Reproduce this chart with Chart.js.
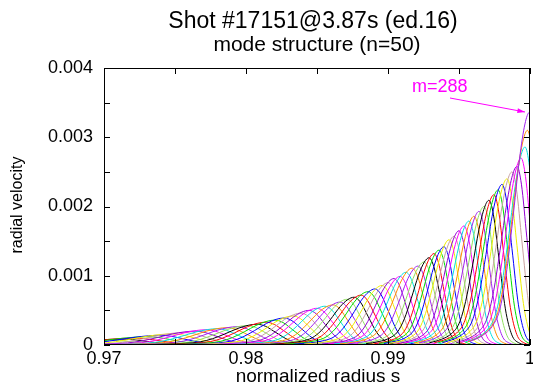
<!DOCTYPE html>
<html>
<head>
<meta charset="utf-8">
<script src="https://cdn.jsdelivr.net/npm/chart.js@4.4.1/dist/chart.umd.min.js"></script>
<style>
  html, body { margin: 0; padding: 0; background: #fff; }
  #wrap { width: 533px; height: 385px; }
</style>
</head>
<body>
<div id="wrap"><canvas id="modes" width="533" height="385"></canvas></div>
<script>
// Peak radius of every mode curve, left to right (last one is m=288)
const peakS = [
  0.97028, 0.97120, 0.97211, 0.97303, 0.97394, 0.97479, 0.97563, 0.97641, 0.97718, 0.97796,
  0.97866, 0.97937, 0.98007, 0.98077, 0.98141, 0.98204, 0.98268, 0.98331, 0.98387, 0.98444,
  0.98500, 0.98556, 0.98613, 0.98662, 0.98711, 0.98761, 0.98810, 0.98859, 0.98908, 0.98958,
  0.99000, 0.99042, 0.99085, 0.99127, 0.99169, 0.99211, 0.99254, 0.99289, 0.99324, 0.99359,
  0.99394, 0.99430, 0.99465, 0.99500, 0.99535, 0.99570, 0.99606, 0.99641, 0.99676, 0.99711,
  0.99746, 0.99775, 0.99803, 0.99838, 0.99873, 0.99908, 0.99937, 0.99965, 0.99982, 0.99996
];
// Peak radial velocity of every curve
const peakV = [
  0.000070, 0.000085, 0.000100, 0.000120, 0.000140, 0.000160, 0.000180, 0.000200, 0.000220, 0.000235,
  0.000250, 0.000265, 0.000280, 0.000300, 0.000330, 0.000360, 0.000390, 0.000420, 0.000460, 0.000500,
  0.000530, 0.000560, 0.000580, 0.000620, 0.000660, 0.000690, 0.000720, 0.000770, 0.000810, 0.000860,
  0.000900, 0.000960, 0.000990, 0.001050, 0.001110, 0.001140, 0.001200, 0.001260, 0.001320, 0.001370,
  0.001420, 0.001520, 0.001570, 0.001650, 0.001720, 0.001790, 0.001860, 0.001930, 0.002000, 0.002090,
  0.002170, 0.002240, 0.002320, 0.002400, 0.002500, 0.002580, 0.002700, 0.002860, 0.003100, 0.003360
];
const lastMode = 288;

// Shape of one curve: offset in peak spacings, level relative to peak
const profileOffset = [-12, -9.5, -7.5, -6, -4.7, -3.4, -2, -0.9, 0, 0.9, 2, 3.3, 4.6, 6, 8];
const profileLevel  = [0.015, 0.04, 0.08, 0.15, 0.30, 0.53, 0.80, 0.95, 1, 0.90, 0.60, 0.25, 0.07, 0.015, 0];

const xTicks = [0.97, 0.98, 0.99, 1];
const yTicks = [0, 0.001, 0.002, 0.003, 0.004];

const palette = ['#90e060', '#000000', '#ff0000', '#00dd00', '#0000ff', '#eeee00',
                 '#c8a0a0', '#9400d3', '#ff00ff', '#00e0e0', '#ff8c00', '#a020f0'];

const FONT = "'Liberation Sans', Arial, sans-serif";

function spacingAt(i) {
  const a = Math.max(i - 2, 0), b = Math.min(i + 2, peakS.length - 1);
  return Math.max((peakS[b] - peakS[a]) / (b - a), 0.00035);
}

const datasets = peakS.map((s0, i) => {
  const d = spacingAt(i);
  return {
    label: 'm=' + (lastMode - (peakS.length - 1 - i)),
    data: profileOffset.map((o, k) => ({ x: s0 + o * d, y: peakV[i] * profileLevel[k] })),
    showLine: true,
    borderColor: palette[i % palette.length],
    borderWidth: 1,
    pointRadius: 0,
    cubicInterpolationMode: 'monotone',
    fill: false,
    order: peakS.length - i
  };
});

// box, inward ticks on all sides, titles and the m=288 arrow
const framePlugin = {
  id: 'frame',
  afterDraw(chart) {
    const { ctx, chartArea: a, scales } = chart;
    const tl = 6;
    ctx.save();
    ctx.strokeStyle = '#000';
    ctx.lineWidth = 1;
    ctx.strokeRect(a.left + 0.5, a.top + 0.5, a.right - a.left - 1, a.bottom - a.top - 1);
    ctx.beginPath();
    scales.x.ticks.forEach(t => {
      const px = Math.round(scales.x.getPixelForValue(t.value)) + 0.5;
      ctx.moveTo(px, a.bottom); ctx.lineTo(px, a.bottom - tl);
      ctx.moveTo(px, a.top); ctx.lineTo(px, a.top + tl);
    });
    scales.y.ticks.forEach(t => {
      const py = Math.round(scales.y.getPixelForValue(t.value)) + 0.5;
      ctx.moveTo(a.left, py); ctx.lineTo(a.left + tl, py);
      ctx.moveTo(a.right, py); ctx.lineTo(a.right - tl, py);
    });
    ctx.stroke();

    ctx.fillStyle = '#000';
    ctx.textAlign = 'center';
    ctx.textBaseline = 'middle';
    ctx.font = '23px ' + FONT;
    ctx.fillText('Shot #17151@3.87s (ed.16)', 313, 22);
    ctx.font = '21px ' + FONT;
    ctx.fillText('mode structure (n=50)', 317, 45);
    ctx.font = '19px ' + FONT;
    ctx.fillText('normalized radius s', 318, 377);
    ctx.save();
    ctx.translate(18, 205);
    ctx.rotate(-Math.PI / 2);
    ctx.font = '16px ' + FONT;
    ctx.fillText('radial velocity', 0, 0);
    ctx.restore();

    // annotation
    ctx.fillStyle = '#ff00ff';
    ctx.strokeStyle = '#ff00ff';
    ctx.font = '18px ' + FONT;
    ctx.textAlign = 'left';
    ctx.fillText('m=' + lastMode, 412, 87);
    const x0 = 450, y0 = 98, x1 = 525, y1 = 112;
    ctx.beginPath(); ctx.moveTo(x0, y0); ctx.lineTo(x1, y1); ctx.stroke();
    const ang = Math.atan2(y1 - y0, x1 - x0);
    ctx.beginPath();
    ctx.moveTo(x1, y1);
    ctx.lineTo(x1 - 8 * Math.cos(ang - 0.3), y1 - 8 * Math.sin(ang - 0.3));
    ctx.lineTo(x1 - 8 * Math.cos(ang + 0.3), y1 - 8 * Math.sin(ang + 0.3));
    ctx.closePath(); ctx.fill();
    ctx.restore();
  }
};

new Chart(document.getElementById('modes'), {
  type: 'scatter',
  data: { datasets },
  options: {
    responsive: false,
    animation: false,
    layout: { padding: { top: 68, right: 3, left: 0, bottom: 0 } },
    plugins: { legend: { display: false }, tooltip: { enabled: false } },
    scales: {
      x: {
        type: 'linear', min: 0.97, max: 1,
        grid: { display: false, drawTicks: false },
        border: { display: false },
        ticks: {
          stepSize: 0.005, autoSkip: false, maxRotation: 0, padding: 3,
          color: '#000', font: { family: FONT, size: 18 },
          callback: v => {
            const r = Math.round(v * 1000);
            return xTicks.some(t => Math.round(t * 1000) === r) ? String(r / 1000) : '';
          }
        },
        afterFit: s => { s.height = 40; s.paddingLeft = 0; s.paddingRight = 0; }
      },
      y: {
        type: 'linear', min: 0, max: 0.004,
        grid: { display: false, drawTicks: false },
        border: { display: false },
        ticks: {
          stepSize: 0.0005, autoSkip: false, padding: 11,
          color: '#000', font: { family: FONT, size: 18 },
          callback: v => {
            const r = Math.round(v * 10000);
            if (!yTicks.some(t => Math.round(t * 10000) === r)) return '';
            return r === 0 ? '0' : (r / 10000).toFixed(3);
          }
        },
        afterFit: s => { s.width = 104; s.paddingTop = 0; s.paddingBottom = 0; }
      }
    }
  },
  plugins: [framePlugin]
});
</script>
</body>
</html>
